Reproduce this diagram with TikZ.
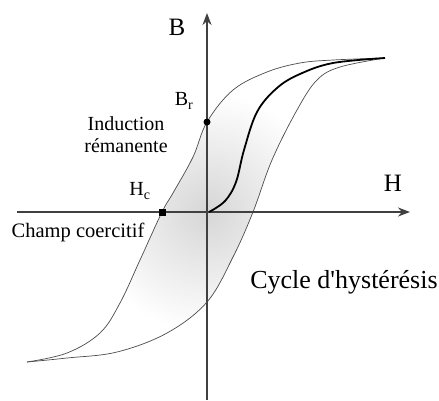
\documentclass[tikz,border=0pt]{standalone}
\usepackage{fontspec}
\setmainfont{Liberation Serif}
\usetikzlibrary{arrows.meta}
\begin{document}
\begin{tikzpicture}[x=1pt,y=-1pt,
  axis/.style={line width=1.8pt,draw=black!75,-{Stealth[length=12pt,width=9pt]}},
  branch/.style={line width=0.7pt,draw=black!70},
  firstmag/.style={line width=1.8pt,draw=black},
  lbl/.style={inner sep=0pt,font=\fontsize{25}{27}\selectfont},
  sub/.style={inner sep=0pt,font=\fontsize{20}{22}\selectfont}]
\useasboundingbox[fill=white] (0,0) rectangle (439,400);
% loop shading
\begin{scope}
\clip plot[smooth,tension=0.6] coordinates {(385,58) (333,60) (300,63) (267,72) (233,90) (207,122) (193,157) (173,193) (162,212) (140,260) (120,303) (100,333) (67,353) (27,362)}
  -- plot[smooth,tension=0.6] coordinates {(27,362) (67,358) (117,352) (167,333) (207,302) (233,257) (253,212) (272,160) (297,110) (317,80) (340,67) (385,58)} -- cycle;
\shade[inner color=black!16,outer color=white] (207,212) circle (120);
\end{scope}
% axes
\coordinate (xs) at (17,212);
\coordinate (xe) at (410,212);
\coordinate (ys) at (207,400);
\coordinate (ye) at (207,13);
\draw[axis] (xs) -- (xe);
\draw[axis] (ys) -- (ye);
% branches
\draw[branch] plot[smooth,tension=0.6] coordinates {(385,58) (333,60) (300,63) (267,72) (233,90) (207,122) (193,157) (173,193) (162,212) (140,260) (120,303) (100,333) (67,353) (27,362)};
\draw[branch] plot[smooth,tension=0.6] coordinates {(27,362) (67,358) (117,352) (167,333) (207,302) (233,257) (253,212) (272,160) (297,110) (317,80) (340,67) (385,58)};
\draw[firstmag] plot[smooth,tension=0.6] coordinates {(209,212) (225,201) (236,182) (244,150) (257,112) (277,88) (300,74) (333,63) (385,58)};
% points
\node[circle,fill=black,inner sep=0pt,minimum size=7pt] (br) at (207,122) {};
\node[rectangle,fill=black,inner sep=0pt,minimum size=7pt] (hc) at (162,212) {};
% labels
\node[lbl] (blab) at (177,27) {B};
\node[lbl] (hlab) at (393,183) {H};
\node[sub] (brlab) at (184,101) {B\textsubscript{r}};
\node[sub] (hclab) at (140,191) {H\textsubscript{c}};
\node[sub,align=center] (ind) at (126,135) {Induction\\rémanente};
\node[inner sep=0pt,font=\fontsize{20.5}{22}\selectfont] (champ) at (78,232) {Champ coercitif};
\node[inner sep=0pt,font=\fontsize{26}{28}\selectfont] (cycle) at (344,282) {Cycle d\textquotesingle hystérésis};
\end{tikzpicture}
\end{document}
